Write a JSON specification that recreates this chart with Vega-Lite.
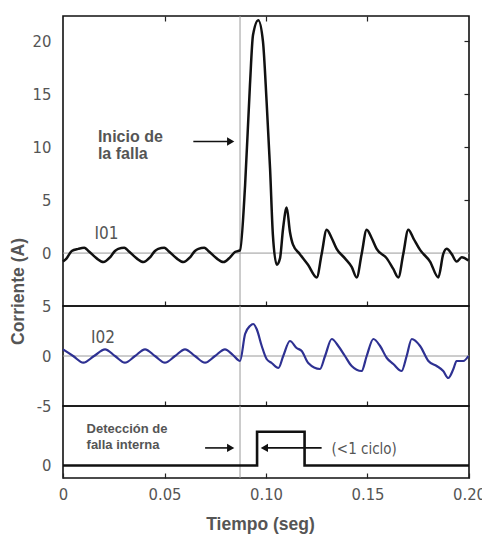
{
  "$schema": "https://vega.github.io/schema/vega-lite/v6.json",
  "padding": {"left": 8, "top": 14, "right": 0, "bottom": 0},
  "spacing": 0,
  "bounds": "flush",
  "datasets": {
    "one": [{}],
    "i01": [
      {"t": 0.0, "v": -0.8}, {"t": 0.0018, "v": -0.5}, {"t": 0.0043, "v": 0.2}, {"t": 0.0075, "v": 0.4},
      {"t": 0.0105, "v": 0.5}, {"t": 0.0125, "v": 0.2}, {"t": 0.0166, "v": -0.5}, {"t": 0.0199, "v": -0.85},
      {"t": 0.0232, "v": -0.4}, {"t": 0.0256, "v": 0.2}, {"t": 0.0272, "v": 0.4}, {"t": 0.0302, "v": 0.5},
      {"t": 0.0322, "v": 0.2}, {"t": 0.0363, "v": -0.5}, {"t": 0.0396, "v": -0.85}, {"t": 0.0429, "v": -0.4},
      {"t": 0.0453, "v": 0.2}, {"t": 0.0469, "v": 0.4}, {"t": 0.0499, "v": 0.5}, {"t": 0.0519, "v": 0.2},
      {"t": 0.056, "v": -0.5}, {"t": 0.0593, "v": -0.85}, {"t": 0.0626, "v": -0.4}, {"t": 0.065, "v": 0.2},
      {"t": 0.0667, "v": 0.4}, {"t": 0.0696, "v": 0.5}, {"t": 0.0716, "v": 0.2}, {"t": 0.0757, "v": -0.5},
      {"t": 0.079, "v": -0.85}, {"t": 0.0823, "v": -0.4}, {"t": 0.0847, "v": 0.1}, {"t": 0.0872, "v": 0.25},
      {"t": 0.0897, "v": 6.4}, {"t": 0.0921, "v": 15.9}, {"t": 0.0936, "v": 20.6}, {"t": 0.0962, "v": 22.0},
      {"t": 0.0985, "v": 20.0}, {"t": 0.1003, "v": 14.3}, {"t": 0.102, "v": 8.0}, {"t": 0.1034, "v": 1.7},
      {"t": 0.1053, "v": -1.1}, {"t": 0.1069, "v": -0.5}, {"t": 0.1084, "v": 2.3}, {"t": 0.1102, "v": 4.3},
      {"t": 0.1118, "v": 2.0}, {"t": 0.1133, "v": 0.8}, {"t": 0.1167, "v": -0.1}, {"t": 0.1207, "v": -1.1},
      {"t": 0.125, "v": -2.3}, {"t": 0.1274, "v": -0.1}, {"t": 0.1299, "v": 2.2}, {"t": 0.1324, "v": 1.4},
      {"t": 0.1348, "v": 0.4}, {"t": 0.1389, "v": -0.5}, {"t": 0.1422, "v": -1.3}, {"t": 0.1447, "v": -2.3},
      {"t": 0.1471, "v": -0.1}, {"t": 0.1496, "v": 2.2}, {"t": 0.1521, "v": 1.4}, {"t": 0.1545, "v": 0.4},
      {"t": 0.1595, "v": -0.5}, {"t": 0.1627, "v": -1.5}, {"t": 0.1652, "v": -2.3}, {"t": 0.1676, "v": -0.1},
      {"t": 0.1701, "v": 2.2}, {"t": 0.1726, "v": 1.4}, {"t": 0.1759, "v": 0.3}, {"t": 0.1808, "v": -0.8},
      {"t": 0.1849, "v": -2.3}, {"t": 0.1873, "v": -0.1}, {"t": 0.189, "v": 0.4}, {"t": 0.1915, "v": -0.1},
      {"t": 0.1939, "v": -0.8}, {"t": 0.1964, "v": -0.4}, {"t": 0.1997, "v": -0.7}
    ],
    "i02": [
      {"t": 0.0, "v": 0.67}, {"t": 0.005, "v": 0.0}, {"t": 0.01, "v": -0.67}, {"t": 0.0153, "v": 0.0},
      {"t": 0.0207, "v": 0.67}, {"t": 0.0256, "v": 0.0}, {"t": 0.0305, "v": -0.67}, {"t": 0.0355, "v": 0.0},
      {"t": 0.0404, "v": 0.67}, {"t": 0.0453, "v": 0.0}, {"t": 0.0502, "v": -0.67}, {"t": 0.0552, "v": 0.0},
      {"t": 0.0601, "v": 0.67}, {"t": 0.065, "v": 0.0}, {"t": 0.07, "v": -0.67}, {"t": 0.0749, "v": 0.0},
      {"t": 0.0798, "v": 0.67}, {"t": 0.0837, "v": 0.1}, {"t": 0.0872, "v": -0.5},
      {"t": 0.0897, "v": 2.2}, {"t": 0.0921, "v": 3.0}, {"t": 0.0937, "v": 3.2}, {"t": 0.0954, "v": 2.7},
      {"t": 0.0979, "v": 1.0}, {"t": 0.1003, "v": -0.3}, {"t": 0.1028, "v": -0.7}, {"t": 0.1061, "v": -1.2},
      {"t": 0.1085, "v": 0.0}, {"t": 0.1118, "v": 1.5}, {"t": 0.1151, "v": 0.8}, {"t": 0.1176, "v": 0.5},
      {"t": 0.1208, "v": -0.7}, {"t": 0.1266, "v": -1.3}, {"t": 0.1291, "v": 0.0}, {"t": 0.1324, "v": 1.7},
      {"t": 0.1356, "v": 1.0}, {"t": 0.1389, "v": 0.0}, {"t": 0.1422, "v": -1.0}, {"t": 0.1471, "v": -1.5},
      {"t": 0.1496, "v": 0.0}, {"t": 0.1529, "v": 1.7}, {"t": 0.1562, "v": 1.0}, {"t": 0.1595, "v": -0.2},
      {"t": 0.1627, "v": -0.8}, {"t": 0.1668, "v": -1.5}, {"t": 0.1693, "v": 0.0}, {"t": 0.1718, "v": 1.7},
      {"t": 0.1759, "v": 1.0}, {"t": 0.18, "v": -0.5}, {"t": 0.1841, "v": -1.0}, {"t": 0.1873, "v": -1.5},
      {"t": 0.1898, "v": -2.2}, {"t": 0.1923, "v": -1.3}, {"t": 0.1939, "v": -0.5}, {"t": 0.1972, "v": -0.5},
      {"t": 0.1997, "v": 0.0}
    ],
    "trip": [
      {"t": 0.0, "v": 0}, {"t": 0.0956, "v": 1}, {"t": 0.119, "v": 0}, {"t": 0.2, "v": 0}
    ]
  },
  "vconcat": [
    {
      "width": 406,
      "height": 290,
      "resolve": {"axis": {"x": "independent", "y": "independent"}},
      "layer": [
        {
          "data": {"name": "one"},
          "mark": {"type": "rule", "color": "#9a9a9a", "strokeWidth": 1},
          "encoding": {
            "y": {"datum": 0, "type": "quantitative", "scale": {"domain": [-5, 22.4], "nice": false, "zero": false},
                  "axis": {"orient": "right", "labels": false, "ticks": true, "tickSize": -5, "values": [5, 10, 15, 20], "title": null}}
          }
        },
        {
          "data": {"name": "one"},
          "mark": {"type": "rule", "color": "#9a9a9a", "strokeWidth": 1},
          "encoding": {
            "x": {"datum": 0.0872, "type": "quantitative", "scale": {"domain": [0, 0.2], "nice": false, "zero": false},
                  "axis": {"orient": "top", "labels": false, "ticks": true, "tickSize": -5, "values": [0.05, 0.1, 0.15], "title": null}}
          }
        },
        {
          "data": {"name": "i01"},
          "mark": {"type": "line", "color": "#111111", "strokeWidth": 2.5, "interpolate": "monotone"},
          "encoding": {
            "x": {"field": "t", "type": "quantitative", "scale": {"domain": [0, 0.2], "nice": false, "zero": false},
                  "axis": {"orient": "bottom", "labels": false, "ticks": true, "tickSize": -5, "values": [0.05, 0.1, 0.15], "title": null}},
            "y": {"field": "v", "type": "quantitative", "scale": {"domain": [-5, 22.4], "nice": false, "zero": false},
                  "axis": {"orient": "left", "values": [0, 5, 10, 15, 20], "ticks": false, "labelPadding": 12, "labelFlush": false, "labelOverlap": false,
                           "title": "Corriente (A)", "titleX": -45, "titleY": 275, "titleAngle": -90, "titleAlign": "center", "titleBaseline": "middle"}}
          }
        },
        {
          "data": {"name": "one"},
          "mark": {"type": "text", "text": ["Inicio de", "la falla"], "align": "left", "baseline": "alphabetic", "lineHeight": 17.5,
                   "font": "Liberation Sans", "fontSize": 16, "fontWeight": "bold", "color": "#555555"},
          "encoding": {
            "x": {"datum": 0.0172, "type": "quantitative", "axis": null},
            "y": {"datum": 10.54, "type": "quantitative", "axis": null}
          }
        },
        {
          "data": {"name": "one"},
          "mark": {"type": "text", "text": "I01", "align": "left", "baseline": "alphabetic",
                   "font": "Liberation Sans Narrow, DejaVu Sans Condensed, Liberation Sans", "fontSize": 17, "color": "#555555"},
          "encoding": {
            "x": {"datum": 0.0155, "type": "quantitative", "axis": null},
            "y": {"datum": 1.29, "type": "quantitative", "axis": null}
          }
        },
        {
          "data": {"name": "one"},
          "mark": {"type": "rule", "color": "#111111", "strokeWidth": 1.6},
          "encoding": {
            "x": {"datum": 0.0642, "type": "quantitative", "axis": null},
            "x2": {"datum": 0.083},
            "y": {"datum": 10.54, "type": "quantitative", "axis": null}
          }
        },
        {
          "data": {"name": "one"},
          "mark": {"type": "point", "shape": "triangle-right", "filled": true, "color": "#111111", "size": 70, "opacity": 1},
          "encoding": {
            "x": {"datum": 0.0826, "type": "quantitative", "axis": null},
            "y": {"datum": 10.54, "type": "quantitative", "axis": null}
          }
        }
      ]
    },
    {
      "width": 406,
      "height": 100,
      "layer": [
        {
          "data": {"name": "one"},
          "mark": {"type": "rule", "color": "#9a9a9a", "strokeWidth": 1},
          "encoding": {
            "y": {"datum": 0, "type": "quantitative", "scale": {"domain": [-5, 5], "nice": false, "zero": false}}
          }
        },
        {
          "data": {"name": "one"},
          "mark": {"type": "rule", "color": "#9a9a9a", "strokeWidth": 1},
          "encoding": {
            "x": {"datum": 0.0872, "type": "quantitative", "scale": {"domain": [0, 0.2], "nice": false, "zero": false}}
          }
        },
        {
          "data": {"name": "i02"},
          "mark": {"type": "line", "color": "#2e3192", "strokeWidth": 2.2, "interpolate": "monotone"},
          "encoding": {
            "x": {"field": "t", "type": "quantitative", "scale": {"domain": [0, 0.2], "nice": false, "zero": false},
                  "axis": {"orient": "bottom", "labels": false, "ticks": true, "tickSize": -5, "values": [0.05, 0.1, 0.15], "title": null}},
            "y": {"field": "v", "type": "quantitative", "scale": {"domain": [-5, 5], "nice": false, "zero": false},
                  "axis": {"orient": "left", "values": [-5, 0, 5], "ticks": false, "labelPadding": 12, "labelFlush": false, "labelOverlap": false, "title": null,
                           "labelExpr": "datum.value < 0 ? '-' + abs(datum.value) : datum.label"}}
          }
        },
        {
          "data": {"name": "one"},
          "mark": {"type": "text", "text": "I02", "align": "left", "baseline": "alphabetic",
                   "font": "Liberation Sans Narrow, DejaVu Sans Condensed, Liberation Sans", "fontSize": 17, "color": "#555555"},
          "encoding": {
            "x": {"datum": 0.0138, "type": "quantitative"},
            "y": {"datum": 1.3, "type": "quantitative"}
          }
        }
      ]
    },
    {
      "width": 406,
      "height": 72,
      "layer": [
        {
          "data": {"name": "one"},
          "mark": {"type": "rule", "color": "#9a9a9a", "strokeWidth": 1},
          "encoding": {
            "x": {"datum": 0.0872, "type": "quantitative", "scale": {"domain": [0, 0.2], "nice": false, "zero": false}}
          }
        },
        {
          "data": {"name": "trip"},
          "mark": {"type": "line", "color": "#111111", "strokeWidth": 2.6, "interpolate": "step-after"},
          "encoding": {
            "x": {"field": "t", "type": "quantitative", "scale": {"domain": [0, 0.2], "nice": false, "zero": false},
                  "axis": {"orient": "bottom", "values": [0, 0.05, 0.1, 0.15, 0.2], "ticks": true, "tickSize": -5, "labelPadding": 13,
                           "labelFlush": false, "labelOverlap": false,
                           "labelExpr": "datum.value == 0 ? '0' : format(datum.value, '.2f')",
                           "title": "Tiempo (seg)", "titleX": 197, "titleY": 46, "titleBaseline": "middle"}},
            "y": {"field": "v", "type": "quantitative", "scale": {"domain": [-0.37, 1.76], "nice": false, "zero": false},
                  "axis": {"orient": "left", "values": [0], "ticks": false, "labelPadding": 12, "labelFlush": false, "title": null}}
          }
        },
        {
          "data": {"name": "one"},
          "mark": {"type": "text", "text": ["Detección de", "falla interna"], "align": "left", "baseline": "alphabetic", "lineHeight": 15.7,
                   "font": "Liberation Sans", "fontSize": 13, "fontWeight": "bold", "color": "#555555"},
          "encoding": {
            "x": {"datum": 0.0116, "type": "quantitative"},
            "y": {"datum": 0.95, "type": "quantitative"}
          }
        },
        {
          "data": {"name": "one"},
          "mark": {"type": "text", "text": "(<1 ciclo)", "align": "left", "baseline": "alphabetic",
                   "font": "Liberation Sans Narrow, DejaVu Sans Condensed, Liberation Sans", "fontSize": 15, "color": "#555555"},
          "encoding": {
            "x": {"datum": 0.1323, "type": "quantitative"},
            "y": {"datum": 0.34, "type": "quantitative"}
          }
        },
        {
          "data": {"name": "one"},
          "mark": {"type": "rule", "color": "#111111", "strokeWidth": 1.6},
          "encoding": {
            "x": {"datum": 0.07, "type": "quantitative"},
            "x2": {"datum": 0.083},
            "y": {"datum": 0.52, "type": "quantitative"}
          }
        },
        {
          "data": {"name": "one"},
          "mark": {"type": "point", "shape": "triangle-right", "filled": true, "color": "#111111", "size": 70, "opacity": 1},
          "encoding": {
            "x": {"datum": 0.0826, "type": "quantitative"},
            "y": {"datum": 0.52, "type": "quantitative"}
          }
        },
        {
          "data": {"name": "one"},
          "mark": {"type": "rule", "color": "#111111", "strokeWidth": 1.6},
          "encoding": {
            "x": {"datum": 0.0995, "type": "quantitative"},
            "x2": {"datum": 0.1274},
            "y": {"datum": 0.52, "type": "quantitative"}
          }
        },
        {
          "data": {"name": "one"},
          "mark": {"type": "point", "shape": "triangle-left", "filled": true, "color": "#111111", "size": 70, "opacity": 1},
          "encoding": {
            "x": {"datum": 0.0992, "type": "quantitative"},
            "y": {"datum": 0.52, "type": "quantitative"}
          }
        }
      ]
    }
  ],
  "config": {
    "view": {"stroke": "#111111", "strokeWidth": 1.6},
    "axis": {
      "domain": false,
      "grid": false,
      "tickColor": "#222222",
      "tickWidth": 1.2,
      "labelFont": "Liberation Sans Narrow, DejaVu Sans Condensed, Liberation Sans",
      "labelFontSize": 16.5,
      "labelColor": "#555555",
      "titleFont": "Liberation Sans",
      "titleFontWeight": "bold",
      "titleFontSize": 17.5,
      "titleColor": "#555555"
    }
  }
}
